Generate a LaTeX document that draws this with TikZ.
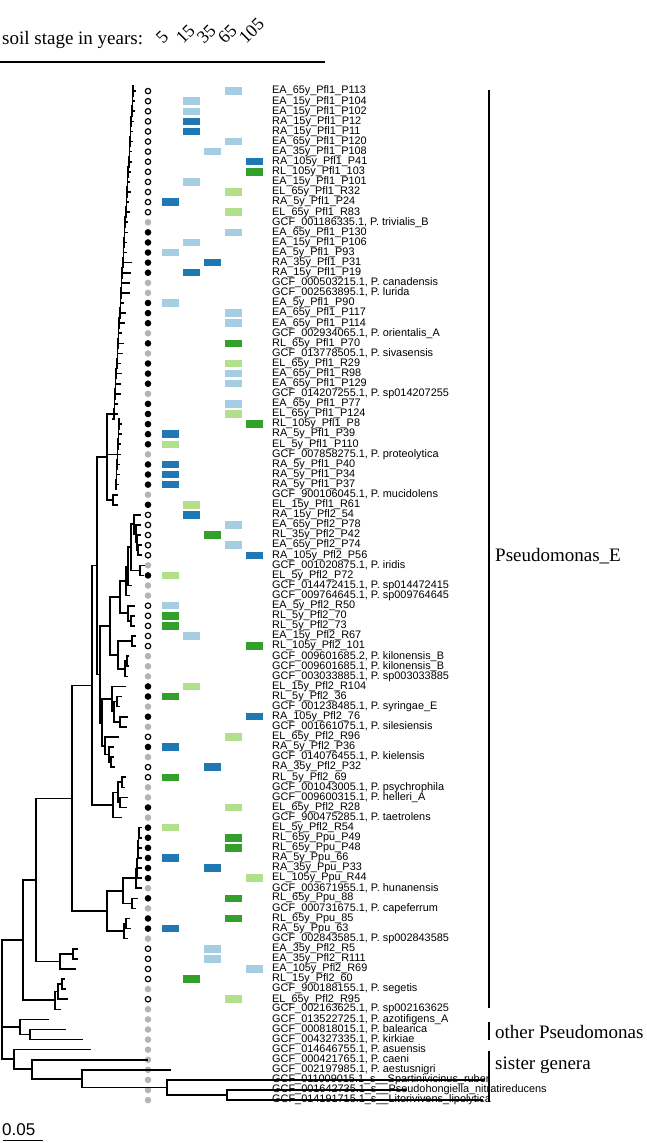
\documentclass[tikz,border=0pt]{standalone}
\usepackage{fontspec}
\setmainfont{Liberation Serif}
\setsansfont{Liberation Sans}[Ligatures=NoCommon]
\usepackage{tikz}

\definecolor{EA}{HTML}{A6CEE3}
\definecolor{RA}{HTML}{1F78B4}
\definecolor{EL}{HTML}{B2DF8A}
\definecolor{RL}{HTML}{33A02C}
\definecolor{refgray}{HTML}{B4B4B4}

\tikzset{
  doto/.style={circle, draw=black, fill=white, line width=1.2pt, minimum size=5.4pt, inner sep=0pt},
  dotf/.style={circle, fill=black, minimum size=6.6pt, inner sep=0pt},
  dotg/.style={circle, fill=refgray, minimum size=6.6pt, inner sep=0pt},
  leaflab/.style={anchor=west, inner sep=0pt, font=\sffamily\fontsize{10.9}{11}\selectfont},
  grouplab/.style={anchor=west, inner sep=0pt, font=\fontsize{19}{20}\selectfont},
  yearlab/.style={anchor=base west, inner sep=0pt, rotate=45, font=\fontsize{18}{19}\selectfont},
  cladebar/.style={line width=2.6pt},
  tree/.style={line width=1.6pt, line cap=rect}
}

\catcode`\_=12

\begin{document}
\begin{tikzpicture}[x=1pt,y=-10.09pt]
\useasboundingbox (0,-8.03) rectangle (646,105.25);

\node[anchor=base west, inner sep=0pt, font=\fontsize{19}{20}\selectfont] (hdr) at (2,-3.6) {soil stage in years:};
\node[yearlab] (y5) at (163,-3.6) {5};
\node[yearlab] (y15) at (183,-3.6) {15};
\node[yearlab] (y35) at (204,-3.6) {35};
\node[yearlab] (y65) at (225,-3.6) {65};
\node[yearlab] (y105) at (246,-3.6) {105};
\draw[line width=2pt] (0,-1.9) -- (325,-1.9);

\foreach \dt/\col/\clr/\lab [count=\i] in {
 o/4/EA/{EA_65y_Pfl1_P113}, o/2/EA/{EA_15y_Pfl1_P104}, o/2/EA/{EA_15y_Pfl1_P102},
 o/2/RA/{RA_15y_Pfl1_P12}, o/2/RA/{RA_15y_Pfl1_P11}, o/4/EA/{EA_65y_Pfl1_P120},
 o/3/EA/{EA_35y_Pfl1_P108}, o/5/RA/{RA_105y_Pfl1_P41}, o/5/RL/{RL_105y_Pfl1_103},
 o/2/EA/{EA_15y_Pfl1_P101}, o/4/EL/{EL_65y_Pfl1_R32}, o/1/RA/{RA_5y_Pfl1_P24},
 o/4/EL/{EL_65y_Pfl1_R83}, g/0/EA/{GCF_001186335.1, P. trivialis_B},
 f/4/EA/{EA_65y_Pfl1_P130}, f/2/EA/{EA_15y_Pfl1_P106}, f/1/EA/{EA_5y_Pfl1_P93},
 f/3/RA/{RA_35y_Pfl1_P31}, f/2/RA/{RA_15y_Pfl1_P19},
 g/0/EA/{GCF_000503215.1, P. canadensis}, g/0/EA/{GCF_002563895.1, P. lurida},
 f/1/EA/{EA_5y_Pfl1_P90}, f/4/EA/{EA_65y_Pfl1_P117}, f/4/EA/{EA_65y_Pfl1_P114},
 g/0/EA/{GCF_002934065.1, P. orientalis_A}, f/4/RL/{RL_65y_Pfl1_P70},
 g/0/EA/{GCF_013778505.1, P. sivasensis}, f/4/EL/{EL_65y_Pfl1_R29},
 f/4/EA/{EA_65y_Pfl1_R98}, f/4/EA/{EA_65y_Pfl1_P129},
 g/0/EA/{GCF_014207255.1, P. sp014207255}, f/4/EA/{EA_65y_Pfl1_P77},
 f/4/EL/{EL_65y_Pfl1_P124}, f/5/RL/{RL_105y_Pfl1_P8}, f/1/RA/{RA_5y_Pfl1_P39},
 f/1/EL/{EL_5y_Pfl1_P110}, g/0/EA/{GCF_007858275.1, P. proteolytica},
 f/1/RA/{RA_5y_Pfl1_P40}, f/1/RA/{RA_5y_Pfl1_P34}, f/1/RA/{RA_5y_Pfl1_P37},
 g/0/EA/{GCF_900106045.1, P. mucidolens}, f/2/EL/{EL_15y_Pfl1_R61},
 o/2/RA/{RA_15y_Pfl2_54}, o/4/EA/{EA_65y_Pfl2_P78}, o/3/RL/{RL_35y_Pfl2_P42},
 o/4/EA/{EA_65y_Pfl2_P74}, o/5/RA/{RA_105y_Pfl2_P56},
 g/0/EA/{GCF_001020875.1, P. iridis}, f/1/EL/{EL_5y_Pfl2_P72},
 g/0/EA/{GCF_014472415.1, P. sp014472415}, g/0/EA/{GCF_009764645.1, P. sp009764645},
 o/1/EA/{EA_5y_Pfl2_R50}, o/1/RL/{RL_5y_Pfl2_70}, o/1/RL/{RL_5y_Pfl2_73},
 o/2/EA/{EA_15y_Pfl2_R67}, o/5/RL/{RL_105y_Pfl2_101},
 g/0/EA/{GCF_009601685.2, P. kilonensis_B}, g/0/EA/{GCF_009601685.1, P. kilonensis_B},
 g/0/EA/{GCF_003033885.1, P. sp003033885}, f/2/EL/{EL_15y_Pfl2_R104},
 f/1/RL/{RL_5y_Pfl2_36}, g/0/EA/{GCF_001238485.1, P. syringae_E},
 f/5/RA/{RA_105y_Pfl2_76}, g/0/EA/{GCF_001661075.1, P. silesiensis},
 o/4/EL/{EL_65y_Pfl2_R96}, f/1/RA/{RA_5y_Pfl2_P36}, g/0/EA/{GCF_014076455.1, P. kielensis},
 o/3/RA/{RA_35y_Pfl2_P32}, o/1/RL/{RL_5y_Pfl2_69},
 g/0/EA/{GCF_001043005.1, P. psychrophila}, g/0/EA/{GCF_009600315.1, P. helleri_A},
 f/4/EL/{EL_65y_Pfl2_R28}, g/0/EA/{GCF_900475285.1, P. taetrolens},
 f/1/EL/{EL_5y_Pfl2_R54}, f/4/RL/{RL_65y_Ppu_P49}, f/4/RL/{RL_65y_Ppu_P48},
 f/1/RA/{RA_5y_Ppu_66}, f/3/RA/{RA_35y_Ppu_P33}, f/5/EL/{EL_105y_Ppu_R44},
 g/0/EA/{GCF_003671955.1, P. hunanensis}, f/4/RL/{RL_65y_Ppu_88},
 g/0/EA/{GCF_000731675.1, P. capeferrum}, f/4/RL/{RL_65y_Ppu_85},
 f/1/RA/{RA_5y_Ppu_63}, g/0/EA/{GCF_002843585.1, P. sp002843585},
 o/3/EA/{EA_35y_Pfl2_R5}, o/3/EA/{EA_35y_Pfl2_R111}, o/5/EA/{EA_105y_Pfl2_R69},
 o/2/RL/{RL_15y_Pfl2_60}, g/0/EA/{GCF_900188155.1, P. segetis},
 o/4/EL/{EL_65y_Pfl2_R95}, g/0/EA/{GCF_002163625.1, P. sp002163625},
 g/0/EA/{GCF_013522725.1, P. azotifigens_A}, g/0/EA/{GCF_000818015.1, P. balearica},
 g/0/EA/{GCF_004327335.1, P. kirkiae}, g/0/EA/{GCF_014646755.1, P. asuensis},
 g/0/EA/{GCF_000421765.1, P. caeni}, g/0/EA/{GCF_002197985.1, P. aestusnigri},
 g/0/EA/{GCF_011009015.1_s__Spartinivicinus_ruber},
 g/0/EA/{GCF_001642735.1_s__Pseudohongiella_nitratireducens},
 g/0/EA/{GCF_014191715.1_s__Litorivivens_lipolytica}}
{
  \ifnum\col>0 \fill[\clr] ({140.5+21*\col},\i-0.37) rectangle ({157.5+21*\col},\i+0.37); \fi
  \node[dot\dt] (dot\i) at (148,\i) {};
  \node[leaflab] (lab\i) at (272,\i) {\lab};
}

\begin{scope}[tree]
% Pfl1 comb
\foreach \i/\tl in {1/2,2/2,3/2,4/2,5/2,6/2,7/2,8/2,9/2,10/2,11/3,12/2,13/3,14/2,15/3,16/2,17/3,
  18/8,19/8,20/8,21/8,22/3,23/5,24/5,25/3,26/5,27/5,28/3,29/5,30/5,31/5,32/3,33/3}{
  \pgfmathsetmacro\s{133-0.6*(\i-1)}
  \draw (\s,\i-0.5) -- (\s,\i+0.5) -- (\s-0.6,\i+0.5);
  \draw (\s,\i) -- (\s+\tl,\i);
}
\foreach \i in {34,...,40}{
  \pgfmathsetmacro\s{119-0.5*(\i-34)}
  \draw (\s,\i-0.5) -- (\s,\i+0.5) -- (\s-0.5,\i+0.5);
  \draw (\s,\i) -- (\s+2.5,\i);
}
\draw (107,33) -- (107,41.5);
\draw (107,33) -- (113,33);
\draw (107,37) -- (117,37);
\draw (107,41.5) -- (113,41.5);
\draw (113,41) -- (113,42);
\draw (113,41) -- (117,41);
\draw (113,42) -- (117,42);

% Pfl2 upper
\draw (97,37.25) -- (97,58.8);
\draw (97,37.25) -- (107,37.25);
\draw (97,58.8) -- (100,58.8);
\draw (100,54) -- (100,63.6);
\draw (100,54) -- (110,54);
\draw (100,63.6) -- (102,63.6);
\draw (110,51.15) -- (110,56.9);
\draw (110,51.15) -- (120,51.15);
\draw (110,56.9) -- (118,56.9);
\draw (120,49.55) -- (120,52.75);
\draw (120,49.55) -- (126,49.55);
\draw (120,52.75) -- (128,52.75);
\draw (126,48.1) -- (126,51);
\draw (126,48.1) -- (128,48.1);
\draw (126,51) -- (129,51);
\draw (128,46.2) -- (128,50);
\draw (128,46.2) -- (131,46.2);
\draw (128,50) -- (131,50);
\draw (131,43.9) -- (131,48.5);
\draw (131,43.9) -- (134,43.9);
\draw (131,48.5) -- (140,48.5);
\draw (134,43) -- (134,44.9);
\draw (134,43) -- (140,43);
\draw (134,44.9) -- (136,44.9);
\draw (136,44) -- (136,45.75);
\draw (136,44) -- (140,44);
\draw (136,45.75) -- (137,45.75);
\draw (137,45) -- (137,46.5);
\draw (137,45) -- (140,45);
\draw (137,46.5) -- (138,46.5);
\draw (138,46) -- (138,47);
\draw (138,46) -- (141,46);
\draw (138,47) -- (141,47);
\draw (140,48) -- (140,49);
\draw (140,48) -- (144,48);
\draw (140,49) -- (143,49);
\draw (128,52) -- (128,53.5);
\draw (128,52) -- (134,52);
\draw (128,53.5) -- (131,53.5);
\draw (131,53) -- (131,54);
\draw (131,53) -- (134,53);
\draw (131,54) -- (134,54);
\draw (118,55.5) -- (118,58.25);
\draw (118,55.5) -- (132,55.5);
\draw (118,58.25) -- (125,58.25);
\draw (132,55) -- (132,56);
\draw (132,55) -- (135,55);
\draw (132,56) -- (135,56);
\draw (125,57.5) -- (125,59);
\draw (125,57.5) -- (127,57.5);
\draw (125,59) -- (127,59);
\draw (127,57) -- (127,58);
\draw (127,57) -- (128,57);
\draw (127,58) -- (128,58);

% Pfl2 lower
\draw (102,61.25) -- (102,65.9);
\draw (102,61.25) -- (112,61.25);
\draw (102,65.9) -- (105,65.9);
\draw (112,60) -- (112,62.5);
\draw (112,60) -- (125,60);
\draw (112,62.5) -- (114,62.5);
\draw (114,61.5) -- (114,63.5);
\draw (114,61.5) -- (117,61.5);
\draw (114,63.5) -- (120,63.5);
\draw (117,61) -- (117,62);
\draw (117,61) -- (121,61);
\draw (117,62) -- (119,62);
\draw (120,63) -- (120,64);
\draw (120,63) -- (127,63);
\draw (120,64) -- (126,64);
\draw (105,65) -- (105,66.75);
\draw (105,65) -- (118,65);
\draw (105,66.75) -- (109,66.75);
\draw (109,66) -- (109,67.5);
\draw (109,66) -- (113,66);
\draw (109,67.5) -- (111,67.5);
\draw (111,67) -- (111,68);
\draw (111,67) -- (113,67);
\draw (111,68) -- (114,68);
\draw (92,48) -- (92,71.75);
\draw (92,48) -- (97,48);
\draw (92,71.75) -- (113,71.75);
\draw (113,70.5) -- (113,73);
\draw (113,70.5) -- (118,70.5);
\draw (113,73) -- (121,73);
\draw (118,69.5) -- (118,71.5);
\draw (118,69.5) -- (122,69.5);
\draw (118,71.5) -- (120,71.5);
\draw (122,69) -- (122,70);
\draw (122,69) -- (125,69);
\draw (122,70) -- (124,70);
\draw (120,71) -- (120,72);
\draw (120,71) -- (127,71);
\draw (120,72) -- (126,72);

% Ppu
\draw (72,59.9) -- (72,82.25);
\draw (72,59.9) -- (92,59.9);
\draw (72,82.25) -- (107,82.25);
\draw (107,80.25) -- (107,84.25);
\draw (107,80.25) -- (123,80.25);
\draw (107,84.25) -- (124,84.25);
\draw (123,79) -- (123,81.5);
\draw (123,79) -- (136,79);
\draw (123,81.5) -- (132,81.5);
\draw (132,81) -- (132,82);
\draw (132,81) -- (137,81);
\draw (132,82) -- (135,82);
\draw (136,78.03) -- (136,80);
\draw (136,80) -- (141,80);
\draw (136,78.03) -- (137,78.03);
\draw (137,77.06) -- (137,79);
\draw (137,79) -- (141,79);
\draw (137,77.06) -- (137.5,77.06);
\draw (137.5,76.1) -- (137.5,78);
\draw (137.5,78) -- (141,78);
\draw (137.5,76.1) -- (138,76.1);
\draw (138,75.25) -- (138,77);
\draw (138,77) -- (141,77);
\draw (138,75.25) -- (138.5,75.25);
\draw (138.5,74.5) -- (138.5,76);
\draw (138.5,76) -- (141,76);
\draw (138.5,74.5) -- (139,74.5);
\draw (139,74) -- (139,75);
\draw (139,74) -- (141,74);
\draw (139,75) -- (141,75);
\draw (124,83.5) -- (124,85);
\draw (124,83.5) -- (126,83.5);
\draw (124,85) -- (127,85);
\draw (126,83) -- (126,84);
\draw (126,83) -- (129,83);
\draw (126,84) -- (130,84);

% deeper clades
\draw (36,71.1) -- (36,87.25);
\draw (36,71.1) -- (72,71.1);
\draw (36,87.25) -- (60,87.25);
\draw (60,86.5) -- (60,88);
\draw (60,86.5) -- (73,86.5);
\draw (60,88) -- (75,88);
\draw (73,86) -- (73,87);
\draw (73,86) -- (77,86);
\draw (73,87) -- (77,87);
\draw (23,79.2) -- (23,91.1);
\draw (23,79.2) -- (36,79.2);
\draw (23,91.1) -- (55,91.1);
\draw (55,90.25) -- (55,92);
\draw (55,90.25) -- (58,90.25);
\draw (55,92) -- (60,92);
\draw (58,89.5) -- (58,91);
\draw (58,89.5) -- (62,89.5);
\draw (58,91) -- (67,91);
\draw (62,89) -- (62,90);
\draw (62,89) -- (64,89);
\draw (62,90) -- (65,90);

% root and outgroups
\draw (2,85.15) -- (2,96.95);
\draw (2,85.15) -- (23,85.15);
\draw (2,93.75) -- (20,93.75);
\draw (2,96.95) -- (14,96.95);
\draw (20,93) -- (20,94.5);
\draw (20,93) -- (48,93);
\draw (20,94.5) -- (30,94.5);
\draw (30,94) -- (30,95);
\draw (30,94) -- (65,94);
\draw (30,95) -- (82,95);
\draw (14,96) -- (14,97.9);
\draw (14,96) -- (90,96);
\draw (14,97.9) -- (32,97.9);
\draw (32,97) -- (32,98.9);
\draw (32,97) -- (147,97);
\draw (32,98.9) -- (82,98.9);
\draw (82,98) -- (82,99.75);
\draw (82,98) -- (170,98);
\draw (82,99.75) -- (167,99.75);
\draw (167,99) -- (167,100.5);
\draw (167,99) -- (484,99);
\draw (167,100.5) -- (227,100.5);
\draw (227,100) -- (227,101);
\draw (227,100) -- (406,100);
\draw (227,101) -- (482,101);
\end{scope}

\draw[cladebar] (489,0.9) -- (489,91.9);
\draw[cladebar] (489,93.3) -- (489,95.0);
\draw[cladebar] (489,96.1) -- (489,101.2);
\node[grouplab] (gE) at (495,47.1) {Pseudomonas_E};
\node[grouplab] (gO) at (495,94.25) {other Pseudomonas};
\node[grouplab] (gS) at (495,97.5) {sister genera};

\node[anchor=base west, inner sep=0pt, font=\sffamily\fontsize{17}{17}\selectfont] (sbar) at (2,104.5) {0.05};
\draw[line width=1.5pt] (3,105) -- (43,105);
\end{tikzpicture}
\end{document}
